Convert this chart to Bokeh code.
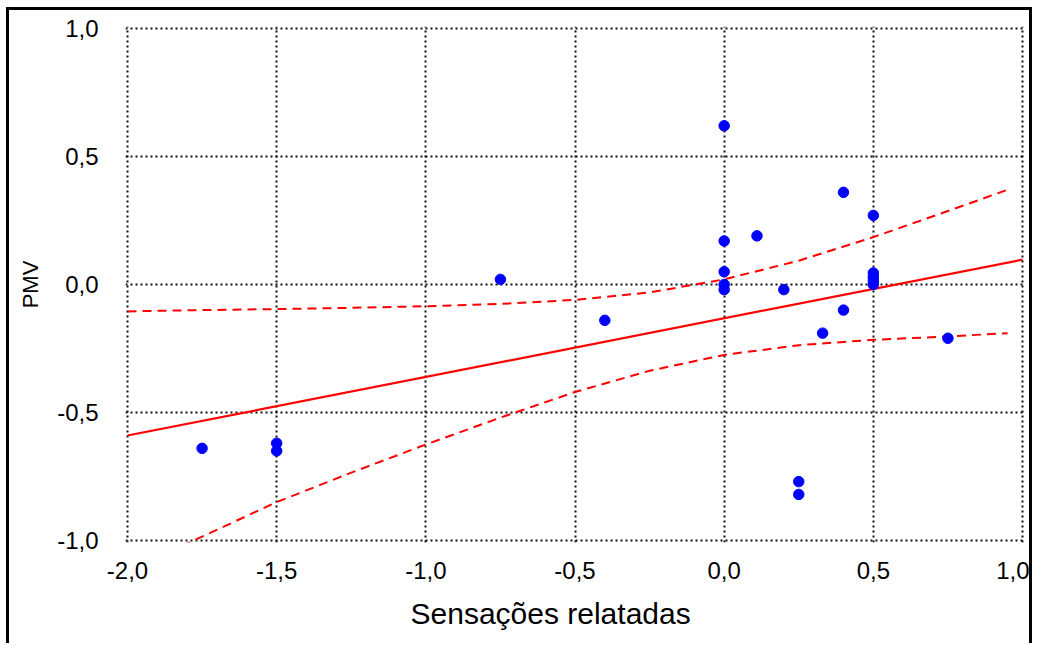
from bokeh.plotting import figure
from bokeh.models import Range1d, FixedTicker, Title, CustomJSTickFormatter
from bokeh.embed import file_html
from bokeh.resources import INLINE

# ---- data ----
x_ticks = [-2.0, -1.5, -1.0, -0.5, 0.0, 0.5, 1.0]
x_tick_labels = ["-2,0", "-1,5", "-1,0", "-0,5", "0,0", "0,5", "1,0"]
y_ticks = [-1.0, -0.5, 0.0, 0.5, 1.0]
y_tick_labels = ["-1,0", "-0,5", "0,0", "0,5", "1,0"]

sens_x = [-1.75, -1.5, -1.5, -0.75, -0.4, 0.0, 0.0, 0.0, 0.0, 0.0, 0.11, 0.2,
          0.25, 0.25, 0.33, 0.4, 0.4, 0.5, 0.5, 0.5, 0.5, 0.5, 0.75]
pmv_y = [-0.64, -0.62, -0.65, 0.02, -0.14, 0.62, 0.17, 0.05, 0.0, -0.02, 0.19, -0.02,
         -0.77, -0.82, -0.19, 0.36, -0.10, 0.27, 0.045, 0.03, 0.015, 0.0, -0.21]

fit_x = [-2.0, 1.0]
fit_y = [-0.59, 0.097]

band_x = [-2.0, -1.75, -1.5, -1.25, -1.0, -0.75, -0.5, -0.25, 0.0, 0.25, 0.5, 0.75, 0.95]
band_upper = [-0.105, -0.10, -0.096, -0.091, -0.085, -0.076, -0.060, -0.031, 0.020,
              0.093, 0.185, 0.287, 0.37]
band_lower = [-1.12, -0.985, -0.85, -0.735, -0.625, -0.52, -0.42, -0.337, -0.275,
              -0.237, -0.216, -0.203, -0.19]

x_title = "Sensações relatadas"
y_title = "PMV"

FONT = "Liberation Sans"

p = figure(width=1026, height=636, output_backend="svg", toolbar_location=None,
           x_range=Range1d(-2.0067, 1.0067), y_range=Range1d(-1.0078, 1.0078),
           min_border_left=116, min_border_right=11, min_border_top=16,
           min_border_bottom=104)
p.styles = {"margin-left": "6px", "margin-top": "7px",
            "border-left": "3px solid black", "border-top": "3px solid black",
            "border-right": "3px solid black"}
p.background_fill_color = "white"
p.border_fill_color = "white"
p.outline_line_color = None

# grid
for g, t in ((p.xgrid, x_ticks), (p.ygrid, y_ticks)):
    g.ticker = FixedTicker(ticks=t)
    g.grid_line_color = "#111111"
    g.grid_line_width = 2
    g.grid_line_dash = "2 3"

FMT = """
const i = tvals.findIndex(t => Math.abs(t - tick) < 1e-9);
return i >= 0 ? tlabels[i] : '';"""

# axes
p.xaxis.ticker = FixedTicker(ticks=x_ticks)
p.yaxis.ticker = FixedTicker(ticks=y_ticks)
p.xaxis.formatter = CustomJSTickFormatter(args=dict(tvals=x_ticks, tlabels=x_tick_labels), code=FMT)
p.yaxis.formatter = CustomJSTickFormatter(args=dict(tvals=y_ticks, tlabels=y_tick_labels), code=FMT)
for ax in (p.xaxis[0], p.yaxis[0]):
    ax.axis_line_color = None
    ax.major_tick_line_color = None
    ax.minor_tick_line_color = None
    ax.major_label_text_font = FONT
    ax.major_label_text_font_size = "24px"
    ax.major_label_text_color = "black"
p.xaxis.major_label_standoff = 13
p.yaxis.major_label_standoff = 21

p.yaxis.axis_label = y_title
p.yaxis.axis_label_text_font = FONT
p.yaxis.axis_label_text_font_size = "22px"
p.yaxis.axis_label_text_font_style = "normal"
p.yaxis.axis_label_text_color = "black"
p.yaxis.axis_label_standoff = 11

# confidence bands and fit
p.line(band_x, band_upper, line_color="#FF0000", line_width=2, line_dash="9 6")
p.line(band_x, band_lower, line_color="#FF0000", line_width=2, line_dash="9 6")
p.line(fit_x, fit_y, line_color="#FF0000", line_width=2.2)

# points
p.scatter(sens_x, pmv_y, size=10.5, marker="circle", fill_color="#0000FF",
          line_color="#0000FF")

# x-axis title
p.add_layout(Title(text=x_title, align="left", offset=285, standoff=26,
                   text_font=FONT, text_font_size="30px", text_font_style="normal",
                   text_color="black"), "below")

open("out.html", "w").write(file_html(p, INLINE))
